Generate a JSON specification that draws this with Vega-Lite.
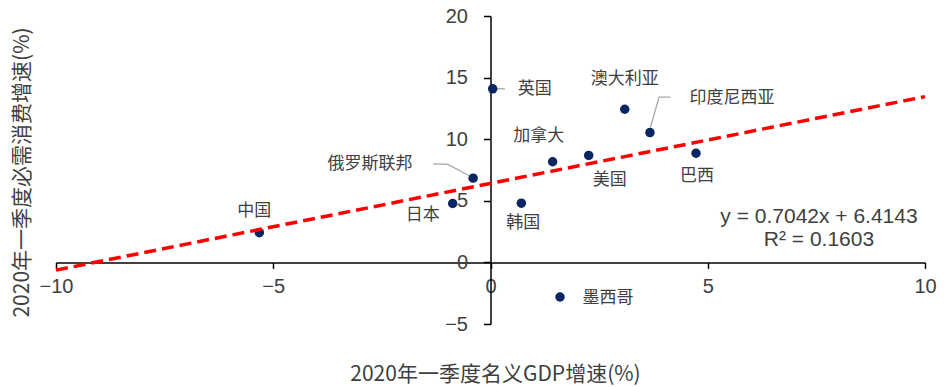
{
  "$schema": "https://vega.github.io/schema/vega-lite/v6.json",
  "width": 869,
  "height": 308,
  "autosize": {"type": "none"},
  "padding": {"left": 56, "top": 16, "right": 19, "bottom": 63},
  "background": "white",
  "config": {
    "view": {"stroke": null},
    "font": "Liberation Sans",
    "axis": {
      "grid": false,
      "domainColor": "#000000",
      "domainWidth": 1.5,
      "tickColor": "#000000",
      "tickWidth": 1.5,
      "labelFont": "Liberation Sans",
      "labelFontSize": 20,
      "labelColor": "#404040",
      "labelFlush": false,
      "labelOverlap": false,
      "titleFont": "Noto Sans CJK SC",
      "titleFontSize": 21,
      "titleFontWeight": "normal",
      "titleColor": "#404040"
    },
    "text": {"font": "Noto Sans CJK SC", "fontSize": 17, "color": "#404040", "align": "center", "baseline": "middle"}
  },
  "datasets": {
    "pts": [
      {"name": "中国", "gdp": -5.32, "cons": 2.41},
      {"name": "日本", "gdp": -0.87, "cons": 4.78},
      {"name": "俄罗斯联邦", "gdp": -0.40, "cons": 6.84},
      {"name": "英国", "gdp": 0.05, "cons": 14.09},
      {"name": "韩国", "gdp": 0.71, "cons": 4.81},
      {"name": "墨西哥", "gdp": 1.60, "cons": -2.81},
      {"name": "加拿大", "gdp": 1.43, "cons": 8.17},
      {"name": "美国", "gdp": 2.26, "cons": 8.68},
      {"name": "澳大利亚", "gdp": 3.09, "cons": 12.43},
      {"name": "印度尼西亚", "gdp": 3.67, "cons": 10.54},
      {"name": "巴西", "gdp": 4.73, "cons": 8.86}
    ],
    "trend": [
      {"gdp": -10, "cons": -0.6277},
      {"gdp": 10, "cons": 13.4563}
    ],
    "leaders": [
      {"who": "英国", "k": 0, "gdp": 0.14, "cons": 14.09},
      {"who": "英国", "k": 1, "gdp": 0.33, "cons": 14.09},
      {"who": "俄罗斯联邦", "k": 0, "gdp": -1.32, "cons": 8.0},
      {"who": "俄罗斯联邦", "k": 1, "gdp": -0.98, "cons": 7.95},
      {"who": "俄罗斯联邦", "k": 2, "gdp": -0.50, "cons": 7.05},
      {"who": "印度尼西亚", "k": 0, "gdp": 3.68, "cons": 10.95},
      {"who": "印度尼西亚", "k": 1, "gdp": 3.88, "cons": 13.41},
      {"who": "印度尼西亚", "k": 2, "gdp": 4.14, "cons": 13.41}
    ],
    "equation": [
      {"line": "y = 0.7042x + 6.4143"},
      {"line": "R² = 0.1603"}
    ]
  },
  "layer": [
    {
      "encoding": {
        "x": {
          "field": "gdp",
          "type": "quantitative",
          "scale": {"domain": [-10, 10], "nice": false, "zero": false},
          "axis": {
            "title": "2020年一季度名义GDP增速(%)",
            "offset": -61.6,
            "values": [-10, -5, 0, 5, 10],
            "tickSize": 6,
            "labelPadding": 8,
            "titleX": 439,
            "titleY": 112,
            "titleAlign": "center",
            "titleBaseline": "middle"
          }
        },
        "y": {
          "field": "cons",
          "type": "quantitative",
          "scale": {"domain": [-5, 20], "nice": false, "zero": false},
          "axis": {
            "title": "2020年一季度必需消费增速(%)",
            "offset": -434.5,
            "values": [-5, 0, 5, 10, 15, 20],
            "tickSize": 7,
            "labelPadding": 16,
            "titleX": -468,
            "titleY": 156,
            "titleAlign": "center",
            "titleBaseline": "middle"
          }
        }
      },
      "layer": [
        {
          "data": {"name": "leaders"},
          "mark": {"type": "line", "color": "#A6A6A6", "strokeWidth": 1.3},
          "encoding": {
            "detail": {"field": "who"},
            "order": {"field": "k"}
          }
        },
        {
          "data": {"name": "pts"},
          "mark": {"type": "circle", "size": 90, "opacity": 1, "color": "#0A2662"}
        },
        {
          "data": {"name": "trend"},
          "mark": {"type": "line", "color": "#FF0000", "strokeWidth": 3.5, "strokeDash": [12, 6]}
        },
        {
          "data": {"name": "pts"},
          "transform": [{"filter": "datum.name == '中国'"}],
          "mark": {"type": "text", "dx": -5, "dy": -22},
          "encoding": {"text": {"field": "name"}}
        },
        {
          "data": {"name": "pts"},
          "transform": [{"filter": "datum.name == '日本'"}],
          "mark": {"type": "text", "dx": -30, "dy": 11},
          "encoding": {"text": {"field": "name"}}
        },
        {
          "data": {"name": "pts"},
          "transform": [{"filter": "datum.name == '俄罗斯联邦'"}],
          "mark": {"type": "text", "dx": -103, "dy": -14},
          "encoding": {"text": {"field": "name"}}
        },
        {
          "data": {"name": "pts"},
          "transform": [{"filter": "datum.name == '英国'"}],
          "mark": {"type": "text", "dx": 42, "dy": 0},
          "encoding": {"text": {"field": "name"}}
        },
        {
          "data": {"name": "pts"},
          "transform": [{"filter": "datum.name == '韩国'"}],
          "mark": {"type": "text", "dx": 2, "dy": 20},
          "encoding": {"text": {"field": "name"}}
        },
        {
          "data": {"name": "pts"},
          "transform": [{"filter": "datum.name == '墨西哥'"}],
          "mark": {"type": "text", "dx": 48, "dy": 1},
          "encoding": {"text": {"field": "name"}}
        },
        {
          "data": {"name": "pts"},
          "transform": [{"filter": "datum.name == '加拿大'"}],
          "mark": {"type": "text", "dx": -14, "dy": -26},
          "encoding": {"text": {"field": "name"}}
        },
        {
          "data": {"name": "pts"},
          "transform": [{"filter": "datum.name == '美国'"}],
          "mark": {"type": "text", "dx": 21, "dy": 25},
          "encoding": {"text": {"field": "name"}}
        },
        {
          "data": {"name": "pts"},
          "transform": [{"filter": "datum.name == '澳大利亚'"}],
          "mark": {"type": "text", "dx": 0, "dy": -30},
          "encoding": {"text": {"field": "name"}}
        },
        {
          "data": {"name": "pts"},
          "transform": [{"filter": "datum.name == '印度尼西亚'"}],
          "mark": {"type": "text", "dx": 82, "dy": -35},
          "encoding": {"text": {"field": "name"}}
        },
        {
          "data": {"name": "pts"},
          "transform": [{"filter": "datum.name == '巴西'"}],
          "mark": {"type": "text", "dx": 1, "dy": 23},
          "encoding": {"text": {"field": "name"}}
        }
      ]
    },
    {
      "data": {"name": "equation"},
      "transform": [{"filter": "datum.line == 'y = 0.7042x + 6.4143'"}],
      "mark": {"type": "text", "font": "Liberation Sans", "fontSize": 21},
      "encoding": {
        "x": {"datum": 7.56, "type": "quantitative"},
        "y": {"datum": 3.71, "type": "quantitative"},
        "text": {"field": "line"}
      }
    },
    {
      "data": {"name": "equation"},
      "transform": [{"filter": "datum.line == 'R² = 0.1603'"}],
      "mark": {"type": "text", "font": "Liberation Sans", "fontSize": 21},
      "encoding": {
        "x": {"datum": 7.56, "type": "quantitative"},
        "y": {"datum": 1.82, "type": "quantitative"},
        "text": {"field": "line"}
      }
    }
  ]
}
